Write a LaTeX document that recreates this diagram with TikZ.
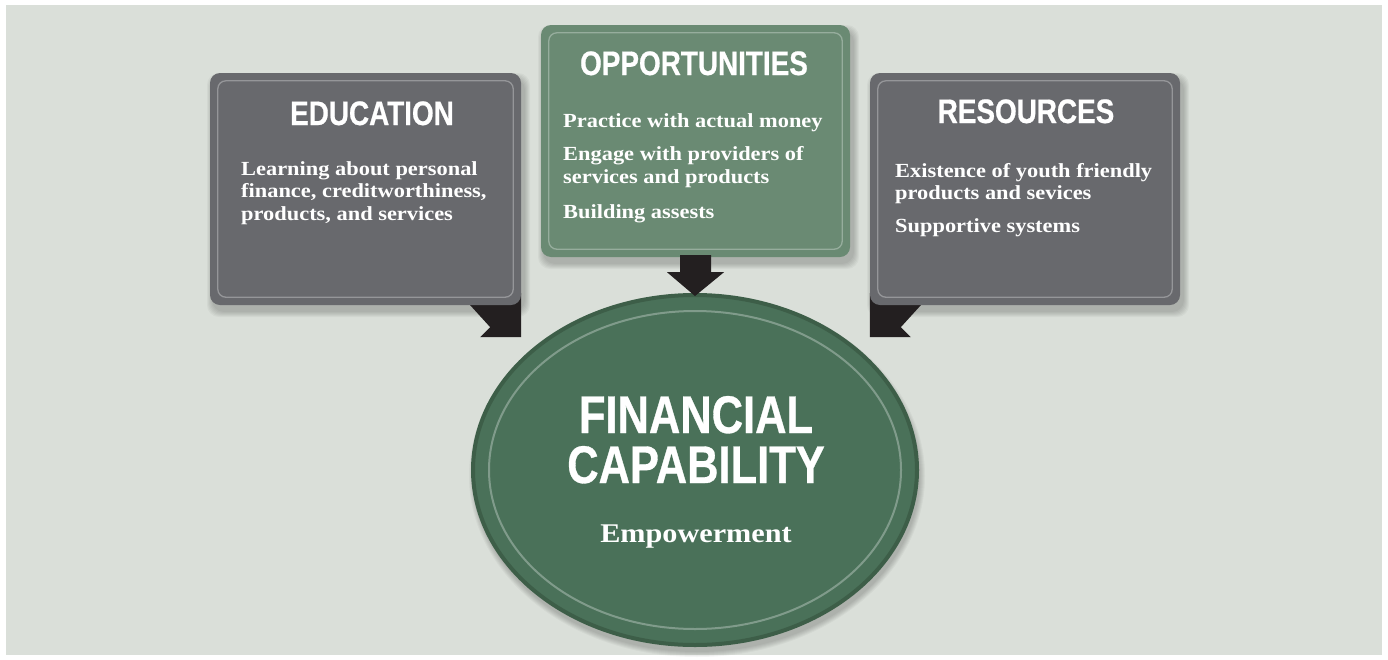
\documentclass[tikz,border=0pt]{standalone}
\usepackage{fontspec}
\setmainfont{Liberation Serif}
\newfontfamily\headfont[FakeStretch=0.82,FakeBold=0.6]{Liberation Sans}
\newfontfamily\bodyfont[FakeStretch=1.12]{Liberation Serif}
\usetikzlibrary{shapes.geometric,backgrounds,calc}
\definecolor{panelbg}{HTML}{DADFD9}
\definecolor{grayboxc}{HTML}{68696D}
\definecolor{greenboxc}{HTML}{6A8A73}
\definecolor{ellfill}{HTML}{4A7159}
\definecolor{ellrim}{HTML}{3D5E48}
\definecolor{ribbonc}{HTML}{231F20}
\tikzset{
  box/.style={rounded corners=10pt, minimum width=311pt, minimum height=232pt, inner sep=0pt, draw=none},
  graybox/.style={box, fill=grayboxc},
  greenbox/.style={box, fill=greenboxc},
  hilite/.style={draw=white, draw opacity=0.3, line width=1.3pt, rounded corners=8pt},
  ribbon/.style={fill=ribbonc},
  title/.style={text=white, anchor=base, font=\headfont\bfseries\fontsize{34}{36}\selectfont},
  body/.style={text=white, anchor=base west, inner sep=0pt, font=\bodyfont\bfseries\fontsize{20}{22}\selectfont},
  bigtitle/.style={text=white, anchor=base, inner sep=0pt, font=\headfont\bfseries\fontsize{53}{54}\selectfont},
}
\newcommand{\softshadow}[4]{%
  \foreach \i in {1,...,6}{%
    \fill[black, opacity=0.035, rounded corners=12pt] (#1-\i+3,#2-\i+6) rectangle (#3+\i+3,#4+\i+6);}}
\begin{document}
\begin{tikzpicture}[x=1pt,y=-1pt]
\useasboundingbox (0,0) rectangle (1388,659);
\begin{scope}[on background layer]
  \fill[white] (0,0) rectangle (1388,659);
  \fill[panelbg] (6,5) rectangle (1382,655);
  \softshadow{210}{73}{521}{305}
  \softshadow{541}{25}{850}{257}
  \softshadow{870}{73}{1180}{305}
  \foreach \i in {1,...,6}{%
    \fill[black, opacity=0.035] (697,476) ellipse ({222+\i} and {175+\i});}
\end{scope}

% boxes
\node[graybox] (edu) at (365.5,189) {};
\node[greenbox, minimum width=309pt] (opp) at (695.5,141) {};
\node[graybox, minimum width=310pt] (res) at (1025,189) {};

\draw[hilite] ([shift={(8,8)}]edu.north west) rectangle ([shift={(-8,-8)}]edu.south east);
\draw[hilite] ([shift={(8,8)}]opp.north west) rectangle ([shift={(-8,-8)}]opp.south east);
\draw[hilite] ([shift={(8,8)}]res.north west) rectangle ([shift={(-8,-8)}]res.south east);

% central ellipse
\node[ellipse, fill=ellfill, draw=ellrim, line width=4pt, minimum width=444pt, minimum height=350pt, inner sep=0pt] (fc) at (695,470) {};
\draw[white, opacity=0.3, line width=2pt] (fc.center) ellipse (206 and 159);

% ribbons behind the side boxes
\begin{scope}[on background layer]
  \fill[ribbon] ([shift={(-51,-12)}]edu.south east) -- ([shift={(0,-12)}]edu.south east) -- ([shift={(0,32)}]edu.south east) -- ++(-41,0) -- ++(10,-10) -- ([shift={(-51,0)}]edu.south east) -- cycle;
  \fill[ribbon] ([shift={(51,-12)}]res.south west) -- ([shift={(0,-12)}]res.south west) -- ([shift={(0,32)}]res.south west) -- ++(41,0) -- ++(-10,-10) -- ([shift={(51,0)}]res.south west) -- cycle;
\end{scope}

% down arrow from opportunities to the ellipse
\fill[ribbon] ([shift={(-15.5,-2)}]opp.south) -- ([shift={(-15.5,15)}]opp.south) -- ([shift={(-28.5,15)}]opp.south) -- ([shift={(0,3)}]fc.north) -- ([shift={(28.5,15)}]opp.south) -- ([shift={(15.5,15)}]opp.south) -- ([shift={(15.5,-2)}]opp.south) -- cycle;

% texts
\node[title] (eduT) at (372,125) {EDUCATION};
\node[body] (e1) at (241,175) {Learning about personal};
\node[body] (e2) at (241,197.5) {finance, creditworthiness,};
\node[body] (e3) at (241,220) {products, and services};

\node[title] (oppT) at (694,75) {OPPORTUNITIES};
\node[body] (o1) at (563,127) {Practice with actual money};
\node[body] (o2) at (563,160) {Engage with providers of};
\node[body] (o3) at (563,183) {services and products};
\node[body] (o4) at (563,218) {Building assests};

\node[title] (resT) at (1026,123) {RESOURCES};
\node[body] (r1) at (895,177) {Existence of youth friendly};
\node[body] (r2) at (895,199) {products and sevices};
\node[body] (r3) at (895,232) {Supportive systems};

\node[bigtitle] (fin) at (696,433) {FINANCIAL};
\node[bigtitle] (cap) at (696,483) {CAPABILITY};
\node[text=white, anchor=base, inner sep=0pt, font=\bodyfont\bfseries\fontsize{27}{29}\selectfont] (emp) at (696,542) {Empowerment};
\end{tikzpicture}
\end{document}
